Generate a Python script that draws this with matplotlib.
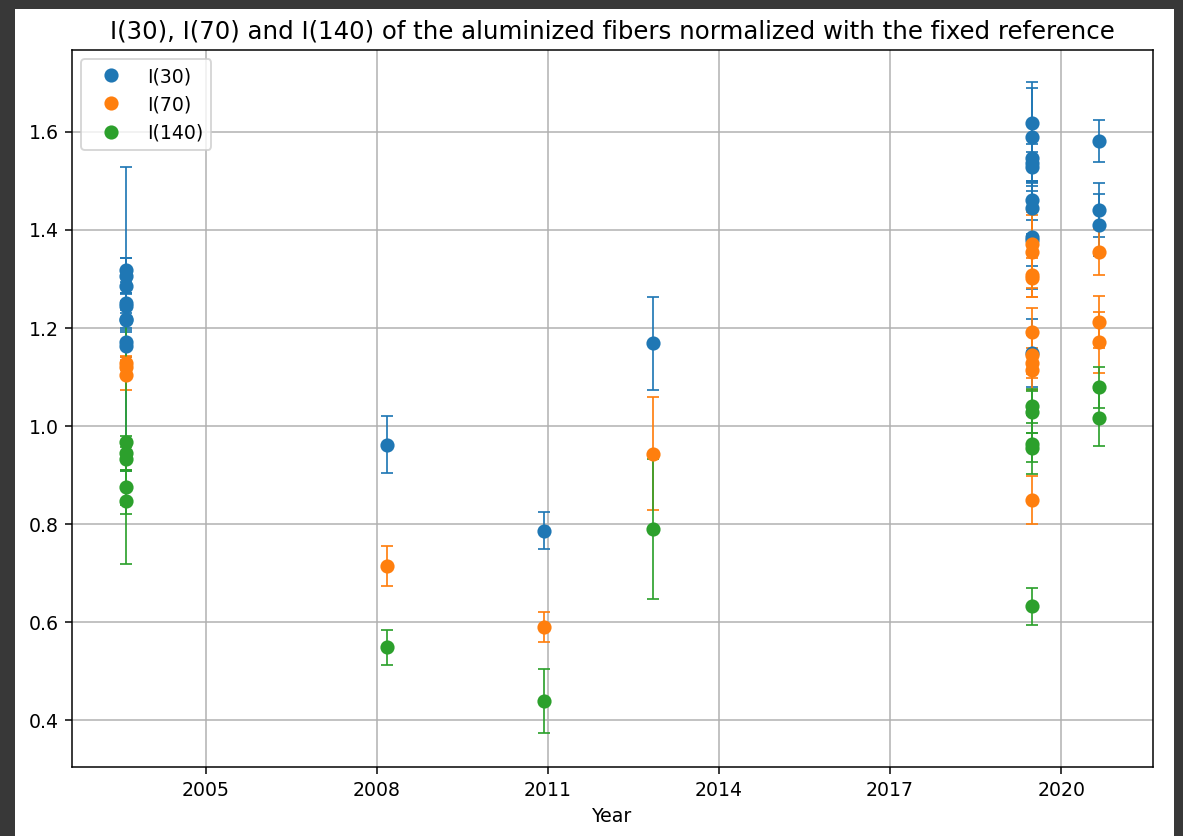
import numpy as np
import matplotlib
matplotlib.use("Agg")
import matplotlib.pyplot as plt
from matplotlib.patches import Rectangle

# Measurement campaigns (decimal year)
campaigns = [2003.6, 2008.18, 2010.93, 2012.84, 2019.49, 2020.67]

# I(30) per campaign and its uncertainty
i30 = [[1.318, 1.305, 1.285, 1.250, 1.245, 1.218, 1.215, 1.170, 1.162],
       [0.961],
       [0.786],
       [1.168],
       [1.617, 1.588, 1.545, 1.535, 1.528, 1.460, 1.445, 1.385, 1.378, 1.148],
       [1.580, 1.440, 1.410]]
i30_err = [[0.025, 0.037, 0.030, 0.020, 0.025, 0.310, 0.020, 0.030, 0.030],
           [0.058],
           [0.037],
           [0.095],
           [0.083, 0.100, 0.045, 0.040, 0.030, 0.040, 0.055, 0.060, 0.100, 0.070],
           [0.043, 0.055, 0.063]]

# I(70)
i70 = [[1.128, 1.120, 1.103],
       [0.714],
       [0.590],
       [0.943],
       [1.370, 1.355, 1.308, 1.302, 1.191, 1.145, 1.128, 1.113, 0.849],
       [1.354, 1.211, 1.170]]
i70_err = [[0.015, 0.020, 0.030],
           [0.041],
           [0.031],
           [0.115],
           [0.065, 0.075, 0.045, 0.040, 0.050, 0.040, 0.030, 0.040, 0.049],
           [0.047, 0.053, 0.062]]

# I(140)
i140 = [[0.967, 0.945, 0.932, 0.874, 0.846],
        [0.548],
        [0.438],
        [0.789],
        [1.040, 1.028, 0.962, 0.955, 0.632],
        [1.078, 1.016]]
i140_err = [[0.250, 0.035, 0.025, 0.035, 0.027],
            [0.036],
            [0.065],
            [0.143],
            [0.035, 0.042, 0.060, 0.030, 0.038],
            [0.041, 0.057]]

labels = ["I(30)", "I(70)", "I(140)"]
colors = ["tab:blue", "tab:orange", "tab:green"]
xticks = [2005, 2008, 2011, 2014, 2017, 2020]


def flatten(groups):
    x = np.repeat(campaigns, [len(g) for g in groups])
    y = np.concatenate([np.asarray(g, float) for g in groups])
    return x, y


fig = plt.figure(figsize=(8.7, 6.15), dpi=136)
fig.patch.set_facecolor("#383838")
fig.add_artist(Rectangle((15 / 1183, 0), 1159 / 1183, 827 / 836,
                         transform=fig.transFigure, facecolor="white",
                         edgecolor="none", zorder=0))

ax = fig.add_axes([72 / 1183, 1 - 767 / 836, 1081 / 1183, 717 / 836])

handles = []
for vals, errs, lab, col in zip([i30, i70, i140], [i30_err, i70_err, i140_err],
                                labels, colors):
    x, y = flatten(vals)
    _, e = flatten(errs)
    eb = ax.errorbar(x, y, yerr=e, fmt="o", ms=6.5, capsize=3,
                     elinewidth=0.9, capthick=0.9, color=col, label=lab)
    handles.append(eb[0])

ax.legend(handles, labels, loc="upper left", handlelength=2.3)
ax.set_xticks(xticks)
ax.set_xticklabels([str(t) for t in xticks])
ax.set_xlim(2002.655, 2021.613)
ax.set_ylim(0.304, 1.767)
ax.grid(True)
ax.set_xlabel("Year")
ax.set_title("I(30), I(70) and I(140) of the aluminized fibers normalized with the fixed reference",
             fontsize=12.9)

fig.savefig("out.png", dpi=136, facecolor=fig.get_facecolor())
